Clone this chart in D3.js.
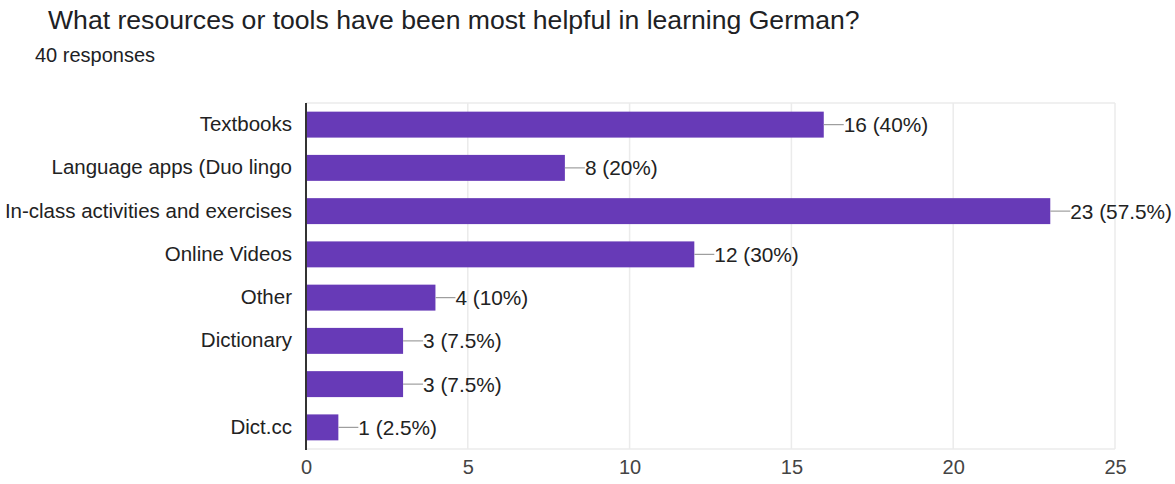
<!DOCTYPE html>
<html><head><meta charset="utf-8">
<script src="https://cdn.jsdelivr.net/npm/d3@7"></script>
<style>body{margin:0;background:#fff;font-family:"Liberation Sans",Arial,sans-serif;}</style>
</head><body><svg id="c" width="1175" height="484"></svg>
<script>
const categories = ["Textbooks","Language apps (Duo lingo","In-class activities and exercises","Online Videos","Other","Dictionary","","Dict.cc"];
const counts = [16,8,23,12,4,3,3,1];
const percents = ["40%","20%","57.5%","30%","10%","7.5%","7.5%","2.5%"];
const xTicks = [0,5,10,15,20,25];
const title = "What resources or tools have been most helpful in learning German?";
const subtitle = "40 responses";
const FONT = "'Liberation Sans',Arial,sans-serif";

const svg = d3.select("#c").attr("font-family",FONT);
const m = {left:306, right:1115, top:103, bottom:449};
const x = d3.scaleLinear().domain([0,25]).range([m.left,m.right]);
const y = d3.scaleBand().domain(d3.range(categories.length)).range([m.top,m.bottom]).paddingInner(0.4).paddingOuter(0.2);

svg.append("text").attr("x",48).attr("y",29).attr("font-size",26.6).attr("fill","#202124").text(title);
svg.append("text").attr("x",35).attr("y",62).attr("font-size",20).attr("fill","#202124").text(subtitle);

// grid
svg.append("g").selectAll("line").data(xTicks.slice(1)).join("line")
  .attr("x1",d=>x(d)).attr("x2",d=>x(d)).attr("y1",m.top).attr("y2",m.bottom)
  .attr("stroke","#ebebeb").attr("stroke-width",1.5);
svg.append("line").attr("x1",m.left).attr("x2",m.right).attr("y1",m.top).attr("y2",m.top).attr("stroke","#ebebeb").attr("stroke-width",1.5);
svg.append("line").attr("x1",m.left).attr("x2",m.right).attr("y1",m.bottom).attr("y2",m.bottom).attr("stroke","#ebebeb").attr("stroke-width",1.5);

// x tick labels
const xa = svg.append("g").attr("transform",`translate(0,${m.bottom})`).call(d3.axisBottom(x).tickValues(xTicks).tickSize(0).tickPadding(11));
xa.select(".domain").remove();
xa.selectAll("text").attr("font-size",20).attr("font-family",FONT).attr("fill","#444");

// bars
svg.append("g").selectAll("rect").data(counts).join("rect")
  .attr("x",x(0)).attr("y",(d,i)=>y(i)).attr("width",d=>x(d)-x(0)).attr("height",y.bandwidth())
  .attr("fill","#673ab7");

// leader lines + labels
svg.append("g").selectAll("line").data(counts).join("line")
  .attr("x1",d=>x(d)).attr("x2",d=>x(d)+20).attr("y1",(d,i)=>y(i)+y.bandwidth()/2).attr("y2",(d,i)=>y(i)+y.bandwidth()/2)
  .attr("stroke","#9e9e9e").attr("stroke-width",1.2);
svg.append("g").selectAll("text").data(counts).join("text")
  .attr("x",d=>x(d)+20).attr("y",(d,i)=>y(i)+y.bandwidth()/2).attr("dy","0.36em")
  .attr("font-size",20.8).attr("fill","#222").text((d,i)=>`${d} (${percents[i]})`);

// y axis
const ya = svg.append("g").attr("transform",`translate(${m.left},0)`).call(d3.axisLeft(y).tickFormat(i=>categories[i]).tickSize(0).tickPadding(14));
ya.select(".domain").remove();
ya.selectAll("text").attr("font-size",20.5).attr("font-family",FONT).attr("fill","#222");
svg.append("line").attr("x1",m.left).attr("x2",m.left).attr("y1",m.top).attr("y2",m.bottom+1).attr("stroke","#333").attr("stroke-width",2);
</script></body></html>
